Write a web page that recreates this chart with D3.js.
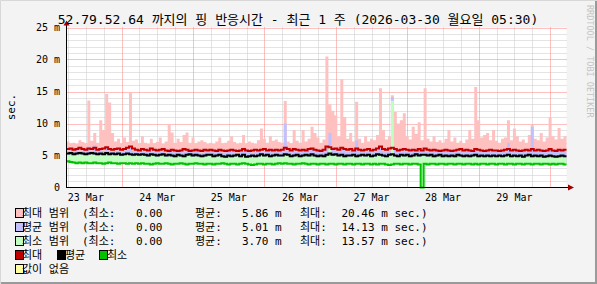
<!DOCTYPE html>
<html>
<head>
<meta charset="utf-8">
<script src="https://cdn.jsdelivr.net/npm/d3@7"></script>
<style>
  body { margin: 0; background: #f3f3f3; }
  svg { display: block; }
  text { font-family: "DejaVu Sans Mono", "Noto Sans CJK KR", monospace; }
</style>
</head>
<body>
<svg id="chart" width="597" height="284"></svg>
<script>
// 최근 1 주, 1시간 단위 (2026-03-23 05:30 ~ 2026-03-30 05:30)
const titleText = "52.79.52.64 까지의 핑 반응시간 - 최근 1 주 (2026-03-30 월요일 05:30)";
const yTitle = "sec.";
const sideText = "RRDTOOL / TOBI OETIKER";
const yTicks = [0, 5, 10, 15, 20, 25];
const yTickLabels = ["0", "5 m", "10 m", "15 m", "20 m", "25 m"];
const dayLabels = ["23 Mar", "24 Mar", "25 Mar", "26 Mar", "27 Mar", "28 Mar", "29 Mar"];

// 최대 범위 상단 (분홍)
const maxTop = [
  7.2,6.9,7.0,6.8,7.4,7.1,6.9,13.6,7.3,8.5,7.0,10.5,9.0,14.6,13.3,8.5,7.2,7.6,6.9,7.8,7.1,14.8,7.3,7.5,
  6.9,8.0,7.0,6.8,7.6,6.9,7.1,7.8,6.8,7.2,9.8,8.6,7.0,7.6,7.1,8.2,8.6,7.0,7.8,6.9,7.2,7.4,7.1,6.8,
  7.0,6.8,7.2,7.8,6.9,7.0,7.3,8.0,7.1,6.8,7.0,8.2,6.9,7.2,7.0,6.8,7.4,9.2,7.6,7.0,8.0,7.3,7.5,7.1,
  7.0,13.5,7.2,6.9,9.0,7.3,7.0,9.0,7.2,7.6,9.5,8.5,7.8,7.0,7.5,20.46,13.0,12.0,11.3,8.0,16.9,11.0,7.6,8.5,
  7.2,13.4,7.6,7.0,8.0,7.2,7.6,7.4,8.2,15.5,9.0,7.5,8.0,14.4,11.8,10.0,10.5,11.6,8.0,7.5,9.5,8.4,10.2,7.4,
  15.5,7.6,7.2,8.0,7.1,7.4,7.0,7.6,9.0,7.2,7.8,7.0,7.3,6.9,7.5,9.0,7.6,15.7,10.5,7.8,8.2,8.5,7.4,9.0,
  7.3,7.0,7.6,7.8,10.5,7.4,9.2,8.0,7.2,7.5,7.0,8.2,9.8,7.6,7.4,8.5,7.2,7.8,11.0,8.0,7.5,9.3,7.6,8.0
];
// 평균 범위 상단 (파랑)
const avgTop = [
  5.7,5.8,5.6,5.9,5.7,5.8,6.0,6.4,5.7,6.6,5.8,5.9,5.7,6.2,5.8,5.6,5.7,5.8,5.6,5.7,5.9,6.3,5.7,5.6,
  5.5,5.7,5.6,5.5,5.8,5.6,5.5,5.7,5.6,5.4,5.8,5.6,5.5,5.7,5.6,5.5,5.8,5.6,5.5,5.7,5.6,5.4,5.6,5.5,
  5.6,5.5,5.7,5.6,5.4,5.5,5.7,5.6,5.5,5.4,5.6,5.8,5.5,5.6,5.4,5.5,5.7,5.6,5.5,5.6,5.8,5.5,5.6,5.5,
  5.6,10.0,5.7,5.5,5.8,5.6,5.5,5.7,5.6,5.8,6.0,5.7,5.6,5.5,5.7,6.3,8.5,6.0,5.8,5.6,6.2,5.8,5.6,5.7,
  5.6,7.4,5.7,5.5,5.6,5.7,5.5,5.6,5.8,6.2,5.7,5.6,5.7,14.13,5.9,5.7,5.6,5.8,5.6,5.5,5.7,5.6,5.8,5.6,
  6.0,5.6,5.5,5.7,5.6,5.5,5.6,5.7,5.8,5.6,5.5,5.6,5.7,5.5,5.6,5.8,5.6,6.2,5.9,5.6,5.7,5.8,5.6,5.7,
  5.6,5.5,5.7,5.6,7.0,5.6,5.8,5.7,5.5,5.6,5.5,5.7,9.5,5.6,5.7,5.8,5.6,5.5,6.0,5.7,5.6,5.8,5.6,5.7
];
// 최소 범위 상단 (초록)
const minTop = [
  5.1,5.2,5.0,5.1,5.2,5.1,5.0,5.1,5.2,5.1,5.0,5.1,5.0,5.2,5.0,5.1,5.0,5.1,4.9,5.0,5.1,5.0,4.9,5.0,
  4.9,5.0,4.9,4.8,5.0,4.9,4.8,4.9,5.0,4.8,4.9,4.8,4.7,4.9,4.8,4.7,4.9,5.0,4.8,4.9,4.8,4.7,4.8,4.9,
  4.9,4.7,4.8,4.9,4.7,4.6,4.8,4.7,4.8,4.9,4.7,4.9,4.6,4.7,4.8,4.7,4.8,5.0,4.8,4.9,4.7,4.8,4.9,4.8,
  4.8,5.0,4.9,4.7,4.8,4.9,4.7,4.8,4.9,4.8,5.0,4.8,4.7,4.8,4.7,4.9,6.4,4.9,5.0,4.8,4.9,4.7,4.8,4.8,
  4.9,4.7,4.8,4.9,4.8,4.9,4.7,4.8,5.0,4.9,4.8,4.7,4.9,13.57,4.8,4.7,4.9,4.8,4.9,4.7,4.8,5.0,4.8,4.9,
  4.9,4.8,4.9,4.7,4.8,4.9,4.7,4.8,4.7,4.8,4.7,4.9,4.8,4.7,4.8,4.7,4.8,4.9,4.7,4.8,4.7,4.8,4.7,4.8,
  4.7,4.8,4.7,4.8,4.9,4.7,4.8,4.7,4.8,4.6,4.8,4.9,4.7,4.8,4.7,4.8,4.6,4.7,4.8,4.7,4.6,4.7,4.8,4.7
];
// 최대 (빨강 선)
const maxLine = [
  6.0,6.1,5.9,6.0,6.2,6.0,5.9,6.1,6.0,6.2,5.9,6.0,6.1,6.3,6.0,5.9,6.0,6.1,5.9,6.0,6.2,6.4,6.1,5.9,
  5.8,6.0,5.9,5.8,6.1,5.9,5.8,5.9,6.0,5.8,5.7,5.9,5.8,5.7,5.8,6.0,5.9,5.7,5.8,5.9,5.8,5.7,5.9,5.8,
  5.9,5.8,5.7,5.9,5.8,5.7,5.8,5.9,5.8,5.7,5.8,6.0,5.8,5.7,5.8,5.9,5.8,5.9,6.0,5.8,5.9,5.8,5.9,5.8,
  5.9,6.2,6.0,5.8,6.0,5.9,5.8,5.9,5.8,6.0,6.1,5.9,5.8,5.7,5.9,6.4,6.3,6.0,6.1,5.9,6.2,6.0,5.9,6.0,
  5.8,6.1,5.9,5.8,5.9,6.0,5.8,5.9,6.1,6.4,6.0,5.9,6.1,6.2,6.0,5.8,5.9,6.0,5.9,5.8,5.9,5.8,6.0,5.8,
  6.1,5.9,5.8,5.9,5.8,5.7,5.8,5.9,5.8,5.7,5.8,5.9,6.0,5.8,5.9,5.8,5.7,6.0,5.9,5.8,5.7,5.8,5.9,5.8,
  5.8,5.7,5.8,5.9,6.0,5.8,5.9,5.8,5.7,5.8,5.9,5.8,6.0,5.8,5.9,5.8,5.7,5.8,6.0,5.8,5.7,5.9,5.8,5.9
];
// 평균 (검정 선)
const avgLine = [
  5.3,5.4,5.2,5.3,5.4,5.3,5.2,5.3,5.4,5.3,5.2,5.3,5.2,5.4,5.2,5.3,5.2,5.3,5.1,5.2,5.3,5.2,5.1,5.2,
  5.1,5.2,5.1,5.0,5.2,5.1,5.0,5.1,5.2,5.0,5.1,5.0,4.9,5.1,5.0,4.9,5.1,5.2,5.0,5.1,5.0,4.9,5.0,5.1,
  5.1,4.9,5.0,5.1,4.9,4.8,5.0,4.9,5.0,5.1,4.9,5.1,4.8,4.9,5.0,4.9,5.0,5.2,5.0,5.1,4.9,5.0,5.1,5.0,
  5.0,5.2,5.1,4.9,5.0,5.1,4.9,5.0,5.1,5.0,5.2,5.0,4.9,5.0,4.9,5.1,5.3,5.1,5.2,5.0,5.1,4.9,5.0,5.0,
  5.1,4.9,5.0,5.1,5.0,5.1,4.9,5.0,5.2,5.1,5.0,4.9,5.1,5.2,5.0,4.9,5.1,5.0,5.1,4.9,5.0,5.2,5.0,5.1,
  5.1,5.0,5.1,4.9,5.0,5.1,4.9,5.0,4.9,5.0,4.9,5.1,5.0,4.9,5.0,4.9,5.0,5.1,4.9,5.0,4.9,5.0,4.9,5.0,
  4.9,5.0,4.9,5.0,5.1,4.9,5.0,4.9,5.0,4.8,5.0,5.1,4.9,5.0,4.9,5.0,4.8,4.9,5.0,4.9,4.8,4.9,5.0,4.9
];
// 최소 (초록 선)
const minLine = [
  4.1,4.0,3.9,3.8,3.9,3.8,3.9,3.8,3.8,3.9,3.8,3.8,3.7,3.8,3.9,3.8,3.8,3.7,3.8,3.8,3.7,3.8,3.7,3.8,
  3.7,3.8,3.7,3.7,3.6,3.7,3.8,3.7,3.7,3.8,3.7,3.6,3.7,3.7,3.8,3.7,3.6,3.7,3.7,3.8,3.7,3.7,3.6,3.7,
  3.7,3.6,3.7,3.7,3.8,3.7,3.6,3.7,3.7,3.6,3.7,3.8,3.7,3.6,3.5,3.6,3.7,3.7,3.6,3.7,3.7,3.6,3.7,3.8,
  3.7,3.8,3.7,3.7,3.6,3.7,3.7,3.8,3.7,3.6,3.7,3.7,3.6,3.7,3.7,3.6,3.7,3.7,3.6,3.7,3.7,3.6,3.7,3.7,
  3.6,3.7,3.7,3.6,3.7,3.7,3.6,3.7,3.6,3.7,3.7,3.6,3.5,3.6,3.7,3.7,3.6,3.7,3.7,3.6,3.7,3.7,3.6,0,
  3.7,3.6,3.7,3.7,3.6,3.7,3.7,3.6,3.7,3.7,3.6,3.7,3.7,3.6,3.7,3.7,3.6,3.7,3.6,3.7,3.7,3.6,3.7,3.7,
  3.6,3.7,3.7,3.6,3.7,3.7,3.6,3.7,3.7,3.6,3.7,3.7,3.6,3.7,3.7,3.6,3.7,3.7,3.6,3.7,3.6,3.7,3.7,3.6
];

const legendNames = ["최대 범위", "평균 범위", "최소 범위"];
const legendMin = ["0.00", "0.00", "0.00"];
const legendAvg = ["5.86", "5.01", "3.70"];
const legendMax = ["20.46", "14.13", "13.57"];
const legendFill = ["#ffc0c0", "#c0c0ff", "#c0ffc0"];
const lineNames = ["최대", "평균", "최소"];
const lineColors = ["#c00000", "#000000", "#00c000"];
const unknownName = "값이 없음";

const W = 597, H = 284;
const start = new Date(2026, 2, 23, 5, 30);
const end = new Date(2026, 2, 30, 5, 30);

const svg = d3.select("#chart");

// 배경 & 테두리
svg.append("rect").attr("width", W).attr("height", H).attr("fill", "#f3f3f3");
svg.append("path").attr("d", `M0.5,${H} V0.5 H${W}`).attr("fill", "none").attr("stroke", "#d8d8d8").attr("stroke-width", 1);
svg.append("path").attr("d", `M1,${H - 1} H${W - 1} V1`).attr("fill", "none").attr("stroke", "#9a9a9a").attr("stroke-width", 2);

const x = d3.scaleTime().domain([start, end]).range([66.5, 566.5]);
const y = d3.scaleLinear().domain([0, 25]).range([187.5, 27.5]);

// 캔버스
svg.append("rect").attr("x", 66.5).attr("y", 27.5).attr("width", 500).attr("height", 160).attr("fill", "#ffffff");

// 그리드
const grid = svg.append("g");
const minorY = d3.range(1, 25).filter(v => v % 5 !== 0);
grid.selectAll(".hmin").data(minorY).enter().append("line")
  .attr("x1", 66.5).attr("x2", 567).attr("y1", d => Math.round(y(d)) + 0.5).attr("y2", d => Math.round(y(d)) + 0.5)
  .attr("stroke", "#c8c8c8").attr("stroke-dasharray", "1,1");
const minorX = d3.timeHour.every(6).range(start, end).filter(d => d.getHours() !== 0);
grid.selectAll(".vmin").data(minorX).enter().append("line")
  .attr("x1", d => Math.round(x(d)) + 0.5).attr("x2", d => Math.round(x(d)) + 0.5).attr("y1", 27.5).attr("y2", 187.5)
  .attr("stroke", "#c8c8c8").attr("stroke-dasharray", "1,1");
grid.selectAll(".hmaj").data(yTicks.slice(1)).enter().append("line")
  .attr("x1", 66.5).attr("x2", 567).attr("y1", d => Math.round(y(d)) + 0.5).attr("y2", d => Math.round(y(d)) + 0.5)
  .attr("stroke", "#ff8080").attr("stroke-dasharray", "1,1");
const days = d3.timeDay.range(start, end);
grid.selectAll(".vmaj").data(days).enter().append("line")
  .attr("x1", d => Math.round(x(d)) + 0.5).attr("x2", d => Math.round(x(d)) + 0.5).attr("y1", 27.5).attr("y2", 187.5)
  .attr("stroke", "#ff8080").attr("stroke-dasharray", "1,1");

// 데이터
const rows = maxTop.map((v, i) => ({
  t: d3.timeHour.offset(start, i),
  maxTop: v, avgTop: avgTop[i], minTop: minTop[i],
  maxLine: maxLine[i], avgLine: avgLine[i], minLine: minLine[i]
}));
rows.push(Object.assign({}, rows[rows.length - 1], { t: end }));

const area = key => d3.area().curve(d3.curveStepAfter)
  .x(d => x(d.t)).y0(d => y(d.minLine)).y1(d => y(d[key]));
const line = key => d3.line().curve(d3.curveStepAfter)
  .x(d => x(d.t)).y(d => y(d[key]));

svg.append("path").datum(rows).attr("d", area("maxTop")).attr("fill", legendFill[0]);
svg.append("path").datum(rows).attr("d", area("avgTop")).attr("fill", legendFill[1]);
svg.append("path").datum(rows).attr("d", area("minTop")).attr("fill", legendFill[2]);

["maxLine", "avgLine", "minLine"].forEach((k, i) => {
  svg.append("path").datum(rows).attr("d", line(k))
    .attr("fill", "none").attr("stroke", lineColors[i]).attr("stroke-width", 2);
});

// 축
svg.append("line").attr("x1", 66.5).attr("x2", 66.5).attr("y1", 188).attr("y2", 23).attr("stroke", "#000");
svg.append("line").attr("x1", 66).attr("x2", 570).attr("y1", 187.5).attr("y2", 187.5).attr("stroke", "#000");
svg.append("path").attr("d", "M63.5,25.5 L69.5,25.5 L66.5,20.5 Z").attr("fill", "#a00000");
svg.append("path").attr("d", "M568,184.5 L568,190.5 L574,187.5 Z").attr("fill", "#a00000");

// 눈금 라벨
svg.selectAll(".ylab").data(yTicks).enter().append("text")
  .attr("x", 60).attr("y", d => y(d) + 3.5).attr("text-anchor", "end")
  .attr("font-size", 10).attr("fill", "#000")
  .text((d, i) => yTickLabels[i]);

const noons = d3.timeDay.range(d3.timeDay.floor(start), end)
  .map(d => d3.timeHour.offset(d, 12)).filter(d => d > start && d < end);
svg.selectAll(".xlab").data(noons).enter().append("text")
  .attr("x", d => x(d)).attr("y", 201).attr("text-anchor", "middle")
  .attr("font-size", 10).attr("fill", "#000")
  .text((d, i) => dayLabels[i]);

// 제목
svg.append("text").attr("x", 298).attr("y", 24).attr("text-anchor", "middle")
  .attr("font-size", 13).attr("fill", "#000").text(titleText);
svg.append("text").attr("transform", "translate(15,107) rotate(-90)").attr("text-anchor", "middle")
  .attr("font-size", 11).attr("fill", "#000").text(yTitle);
svg.append("text").attr("transform", "translate(587,5) rotate(90)").attr("text-anchor", "start")
  .attr("font-size", 8.5).attr("fill", "#c4c4c4").text(sideText);

// 범례
const lg = svg.append("g").attr("font-size", 11).attr("fill", "#000");
legendNames.forEach((n, i) => {
  const by = 217 + i * 14;
  lg.append("rect").attr("x", 15.5).attr("y", by - 8.5).attr("width", 8).attr("height", 9)
    .attr("fill", legendFill[i]).attr("stroke", "#000").attr("stroke-width", 1);
  lg.append("text").attr("x", 22).attr("y", by).text(n);
  lg.append("text").attr("x", 82).attr("y", by).text("(최소:");
  lg.append("text").attr("x", 136).attr("y", by).text(legendMin[i]);
  lg.append("text").attr("x", 195).attr("y", by).text("평균:");
  lg.append("text").attr("x", 242).attr("y", by).text(legendAvg[i] + " m");
  lg.append("text").attr("x", 300).attr("y", by).text("최대:");
  lg.append("text").attr("x", 341.5).attr("y", by).text(legendMax[i] + " m sec.)");
});
const lineBoxX = [15.5, 57.5, 99.5];
const lineTextX = [22, 65, 107];
lineNames.forEach((n, i) => {
  const by = 259;
  lg.append("rect").attr("x", lineBoxX[i]).attr("y", by - 8.5).attr("width", 8).attr("height", 9)
    .attr("fill", lineColors[i]).attr("stroke", "#000");
  lg.append("text").attr("x", lineTextX[i]).attr("y", by).text(n);
});
lg.append("rect").attr("x", 15.5).attr("y", 264.5).attr("width", 8).attr("height", 9)
  .attr("fill", "#ffffa0").attr("stroke", "#000");
lg.append("text").attr("x", 22).attr("y", 273).text(unknownName);
</script>
</body>
</html>
